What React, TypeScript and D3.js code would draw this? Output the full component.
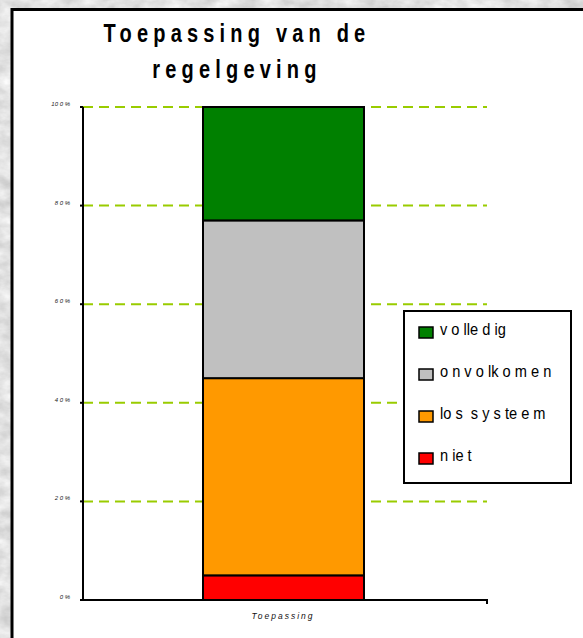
import React from "react";
import * as d3 from "d3";

const categories = ["Toepassing"];
const seriesNames = ["niet", "los systeem", "onvolkomen", "volledig"];
const seriesValues = [5, 40, 32, 23];
const seriesColors = ["#ff0000", "#ff9900", "#c0c0c0", "#008000"];
const yTicks = [0, 20, 40, 60, 80, 100];
const yTickLabels = ["0 %", "2 0 %", "4 0 %", "6 0 %", "8 0 %", "10 0 %"];
const legendLabels = ["v o lle d ig", "o n v o lk o m e n", "lo s  s y s te e m", "n ie t"];
const legendOrder = [3, 2, 1, 0];
const titleLines = ["Toepassing van de", "regelgeving"];

export default function App() {
  const W = 583, H = 638;
  const x0 = 83, x1 = 487, yTop = 107, yBot = 600;
  const y = d3.scaleLinear().domain([0, 100]).range([yBot, yTop]);
  const stack = d3.stack<any>().keys(seriesNames)([
    Object.fromEntries(seriesNames.map((n, i) => [n, seriesValues[i]])),
  ]);
  const bx = 203, bw = 161;
  const legX = 404, legY = 311, legW = 167, legH = 172;
  return (
    <svg width={W} height={H} style={{ position: "fixed", left: 0, top: 0 }} fontFamily="Arial, 'Liberation Sans', sans-serif">
      <defs>
        <filter id="marble" x="0" y="0" width="100%" height="100%" colorInterpolationFilters="sRGB">
          <feTurbulence type="fractalNoise" baseFrequency="0.05 0.08" numOctaves="4" seed="3" result="n" />
          <feColorMatrix type="matrix" values="0.25 0 0 0 0.76  0.25 0 0 0 0.76  0.25 0 0 0 0.76  0 0 0 0 1" in="n" />
        </filter>
      </defs>
      <rect x={0} y={0} width={W} height={H} fill="#dddddd" filter="url(#marble)" />
      <rect x={12} y={9.5} width={W + 10} height={H + 10} fill="#ffffff" stroke="#000" strokeWidth={3} />
      {titleLines.map((t, i) => (
        <g key={t} transform={`translate(237,${i === 0 ? 42 : 78}) scale(0.8,1)`}>
          <text x={0} y={0} textAnchor="middle" fontSize={25} fontWeight="bold" letterSpacing={6.5}>{t}</text>
        </g>
      ))}
      {yTicks.filter((t) => t > 0).map((t) => (
        <line key={t} x1={x0} x2={x1} y1={y(t)} y2={y(t)} stroke="#99cc00" strokeWidth={2} strokeDasharray="10 6" />
      ))}
      {stack.map((s, i) => (
        <rect key={seriesNames[i]} x={bx} width={bw} y={y(s[0][1])} height={y(s[0][0]) - y(s[0][1])}
          fill={seriesColors[i]} stroke="#000" strokeWidth={2} />
      ))}
      <line x1={x0} x2={x0} y1={yTop} y2={yBot + 1} stroke="#000" strokeWidth={2} />
      <line x1={x0} x2={x1 + 1} y1={yBot} y2={yBot} stroke="#000" strokeWidth={2} />
      <line x1={x1} x2={x1} y1={yBot} y2={yBot + 4} stroke="#000" strokeWidth={2} />
      {yTicks.map((t, i) => (
        <g key={t}>
          <line x1={x0 - 3} x2={x0} y1={y(t)} y2={y(t)} stroke="#000" strokeWidth={2} />
          <text x={70} y={y(t) - 1} textAnchor="end" fontSize={6} fontStyle="italic" fill="#222">{yTickLabels[i]}</text>
        </g>
      ))}
      <text x={283} y={619} textAnchor="middle" fontSize={8.5} fontStyle="italic" letterSpacing={2} fill="#111">{categories[0]}</text>
      <rect x={legX} y={legY} width={legW} height={legH} fill="#fff" stroke="#000" strokeWidth={2} />
      {legendOrder.map((si, k) => {
        const ry = 327 + k * 42;
        return (
          <g key={si}>
            <rect x={419} y={ry} width={14} height={11} fill={seriesColors[si]} stroke="#000" strokeWidth={1.5} />
            <g transform={`translate(440,${ry + 8}) scale(0.86,1)`}>
              <text x={0} y={0} fontSize={17} fill="#000" style={{ whiteSpace: "pre" }}>{legendLabels[k]}</text>
            </g>
          </g>
        );
      })}
    </svg>
  );
}
